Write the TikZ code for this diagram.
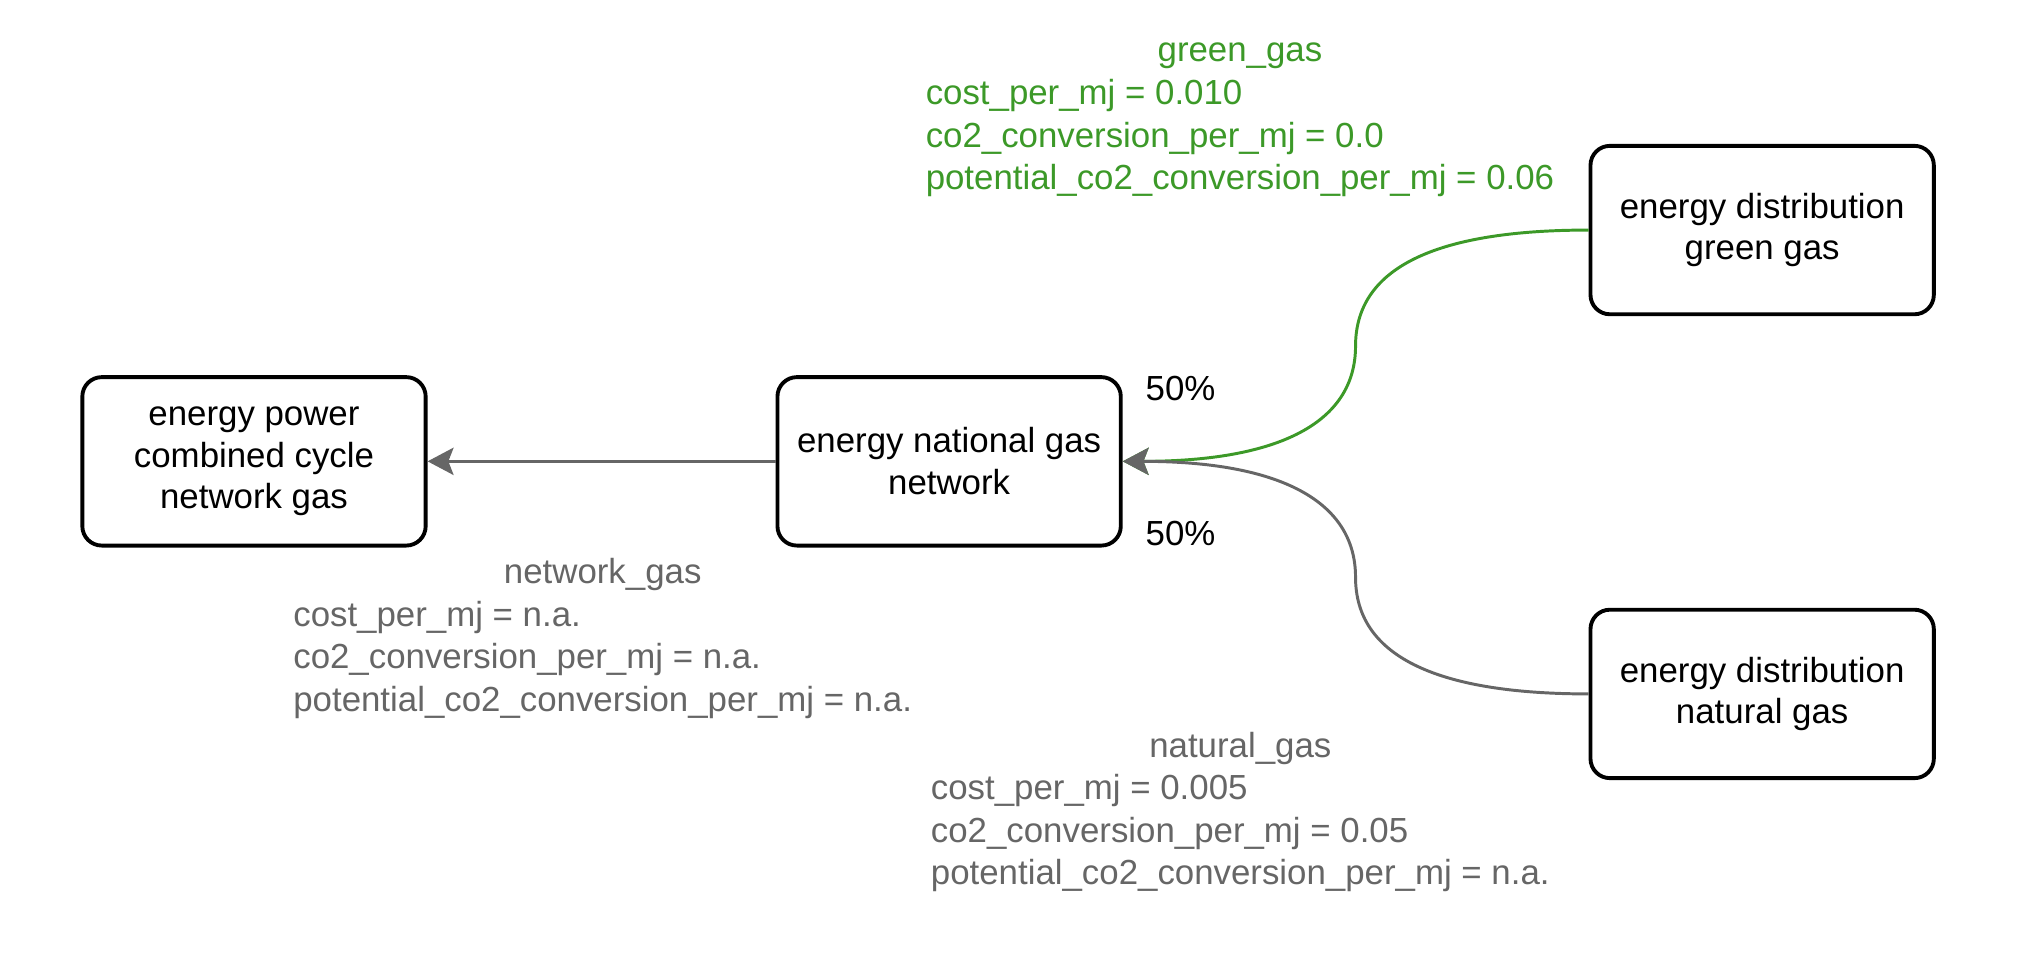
\documentclass[tikz,border=0pt]{standalone}
\usepackage{fontspec}
\setmainfont{Liberation Sans}
\usetikzlibrary{positioning,arrows.meta}
\definecolor{flowgray}{HTML}{666666}
\definecolor{greengas}{RGB}{60,153,40}

\begin{document}
\begin{tikzpicture}[x=0.02cm,y=-0.02cm,on grid,
    font=\fontsize{15.3}{18.3}\selectfont,
    unit/.style={draw,line width=1.7pt,rounded corners=0.3cm,minimum width=5.3cm,minimum height=2.6cm,align=center},
    flow/.style={draw,color=flowgray,line width=1.3pt,-{Stealth[length=0.4cm,width=0.42cm,inset=0.08cm]}},
    info/.style={text=flowgray,anchor=west,inner sep=0pt,font=\fontsize{15.3}{18.7}\selectfont}]
            \useasboundingbox (0,0) rectangle (1568,743.9);
            \node[unit](power) at (196,356){energy power\\combined cycle\\network gas};
            \node[unit, right=10.73cm of power](national){energy national gas\\network};
            \node[unit, above right=3.57cm and 12.55cm of national](green){energy distribution\\green gas};
            \node[unit, below right=3.59cm and 12.55cm of national](natural){energy distribution\\natural gas};
            \coordinate (greenbend) at (1046,267);
            \coordinate (naturalbend) at (1046,445.5);
            \path[flow] 
            (national) edge (power);
            \draw[flow, color=greengas] (green.west) to[out=180,in=90,out distance=2.4cm,in distance=1.19cm] (greenbend)
                to[out=-90,in=0,out distance=1.19cm,in distance=2.4cm] (national.east);
            \draw[flow] (natural.west) to[out=180,in=-90,out distance=2.4cm,in distance=1.19cm] (naturalbend)
                to[out=90,in=0,out distance=1.19cm,in distance=2.4cm] (national.east);
            \node (greenshare) at (911,300){50\%};
            \node (naturalshare) at (911,412){50\%};
            % labels of the gas flows
            \node[info, text=greengas](greenlabel) at (714,90.5){\begin{tabular}{@{}l@{}}\multicolumn{1}{@{}c@{}}{green\_gas}\\cost\_per\_mj = 0.010\\co2\_conversion\_per\_mj = 0.0\\potential\_co2\_conversion\_per\_mj = 0.06\end{tabular}};
            \node[info](networklabel) at (226,493){\begin{tabular}{@{}l@{}}\multicolumn{1}{@{}c@{}}{network\_gas}\\cost\_per\_mj = n.a.\\co2\_conversion\_per\_mj = n.a.\\potential\_co2\_conversion\_per\_mj = n.a.\end{tabular}};
            \node[info](naturallabel) at (718,627){\begin{tabular}{@{}l@{}}\multicolumn{1}{@{}c@{}}{natural\_gas}\\cost\_per\_mj = 0.005\\co2\_conversion\_per\_mj = 0.05\\potential\_co2\_conversion\_per\_mj = n.a.\end{tabular}};
        \end{tikzpicture}
\end{document}
